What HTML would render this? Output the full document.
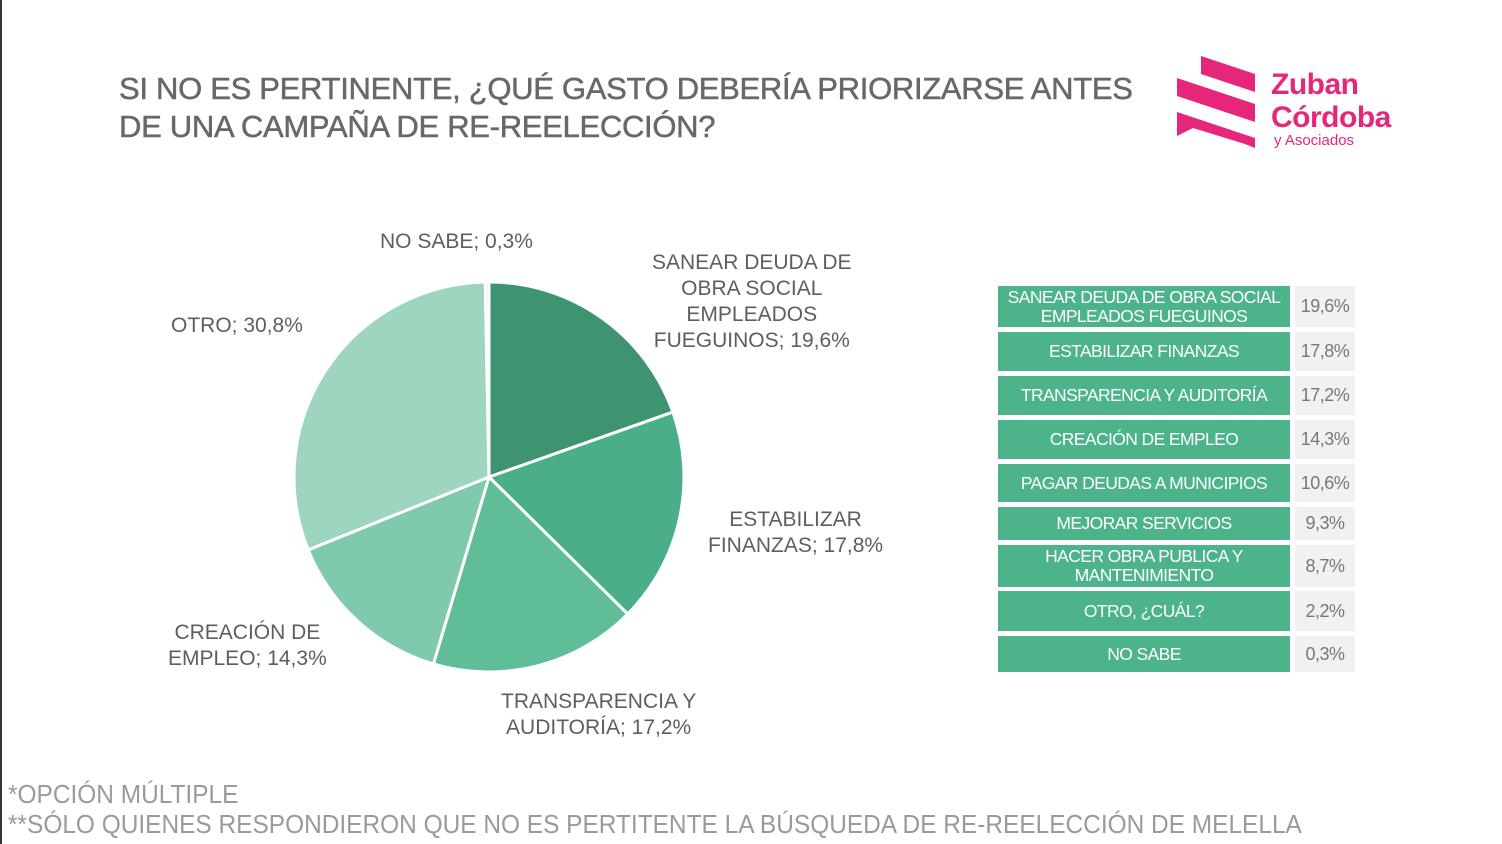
<!DOCTYPE html>
<html><head><meta charset="utf-8"><style>
*{margin:0;padding:0;box-sizing:border-box}
body{width:1502px;height:844px;background:#fff;position:relative;overflow:hidden;font-family:"Liberation Sans",sans-serif;color:#666}
.t{position:absolute;white-space:nowrap}
.title{left:119px;top:70px;font-size:31px;line-height:38px;color:#686868;letter-spacing:-0.3px;-webkit-text-stroke:0.5px #686868}
.lbl{position:absolute;font-size:21px;line-height:26px;color:#5e5e5e;text-align:center;white-space:nowrap}
.row{position:absolute;left:998px;width:292px;background:#4cb38b;color:#fff;font-size:17.5px;line-height:19px;display:flex;align-items:center;justify-content:center;text-align:center;letter-spacing:-0.6px}
.val{position:absolute;left:1295px;width:60px;background:#f1f1f1;color:#777;font-size:18px;display:flex;align-items:center;justify-content:center;letter-spacing:-0.5px}
.foot{left:8px;font-size:26px;color:#9a9a9a;transform:scaleX(0.94);transform-origin:left}
</style></head><body>
<div style="position:absolute;left:0;top:0;width:2px;height:844px;background:#333"></div>
<div class="t title">SI NO ES PERTINENTE, ¿QUÉ GASTO DEBERÍA PRIORIZARSE ANTES<br>DE UNA CAMPAÑA DE RE-REELECCIÓN?</div>

<svg style="position:absolute;left:1175px;top:56px" width="84" height="92">
<polygon points="26,0 80,18 80,36 26,18" fill="#e6267a"/>
<polygon points="2,22 80,48 80,66 2,40" fill="#e6267a"/>
<polygon points="2,56 80,82 80,92 70,88 18,72 2,80" fill="#e6267a"/>
</svg>
<div class="t" style="left:1271px;top:68px;font-size:30px;font-weight:bold;color:#e6267a;line-height:33px;letter-spacing:-0.5px">Zuban<br>Córdoba</div>
<div class="t" style="left:1274px;top:132px;font-size:15px;color:#e6267a">y Asociados</div>

<svg style="position:absolute;left:0;top:0" width="1000" height="844">
<g stroke="#fff" stroke-width="3">
<path d="M489,477 L489,282 A195,195 0 0 1 672.9,412.1 Z" fill="#3e9470"/>
<path d="M489,477 L672.9,412.1 A195,195 0 0 1 627.7,614 Z" fill="#4aae88"/>
<path d="M489,477 L627.7,614 A195,195 0 0 1 433.4,663.9 Z" fill="#5fbe98"/>
<path d="M489,477 L433.4,663.9 A195,195 0 0 1 308.2,549.9 Z" fill="#7fcaac"/>
<path d="M489,477 L308.2,549.9 A195,195 0 0 1 485.3,282 Z" fill="#9dd5bf"/>
<path d="M489,477 L485.3,282 A195,195 0 0 1 489,282 Z" fill="#d8eee4"/>
</g>
</svg>

<div class="lbl" style="left:380px;top:229px">NO SABE; 0,3%</div>
<div class="lbl" style="left:652px;top:250px">SANEAR DEUDA DE<br>OBRA SOCIAL<br>EMPLEADOS<br>FUEGUINOS; 19,6%</div>
<div class="lbl" style="left:171px;top:313px">OTRO; 30,8%</div>
<div class="lbl" style="left:708px;top:507px">ESTABILIZAR<br>FINANZAS; 17,8%</div>
<div class="lbl" style="left:168px;top:620px">CREACIÓN DE<br>EMPLEO; 14,3%</div>
<div class="lbl" style="left:501px;top:689px">TRANSPARENCIA Y<br>AUDITORÍA; 17,2%</div>

<div class="row" style="top:286px;height:41px">SANEAR DEUDA DE OBRA SOCIAL<br>EMPLEADOS FUEGUINOS</div><div class="val" style="top:286px;height:41px">19,6%</div>
<div class="row" style="top:332px;height:39px">ESTABILIZAR FINANZAS</div><div class="val" style="top:332px;height:39px">17,8%</div>
<div class="row" style="top:376px;height:39px">TRANSPARENCIA Y AUDITORÍA</div><div class="val" style="top:376px;height:39px">17,2%</div>
<div class="row" style="top:420px;height:39px">CREACIÓN DE EMPLEO</div><div class="val" style="top:420px;height:39px">14,3%</div>
<div class="row" style="top:464px;height:38px">PAGAR DEUDAS A MUNICIPIOS</div><div class="val" style="top:464px;height:38px">10,6%</div>
<div class="row" style="top:507px;height:33px">MEJORAR SERVICIOS</div><div class="val" style="top:507px;height:33px">9,3%</div>
<div class="row" style="top:545px;height:42px">HACER OBRA PUBLICA Y<br>MANTENIMIENTO</div><div class="val" style="top:545px;height:42px">8,7%</div>
<div class="row" style="top:591px;height:40px">OTRO, ¿CUÁL?</div><div class="val" style="top:591px;height:40px">2,2%</div>
<div class="row" style="top:636px;height:36px">NO SABE</div><div class="val" style="top:636px;height:36px">0,3%</div>

<div class="t foot" style="top:779px">*OPCIÓN MÚLTIPLE</div>
<div class="t foot" style="top:809px">**SÓLO QUIENES RESPONDIERON QUE NO ES PERTITENTE LA BÚSQUEDA DE RE-REELECCIÓN DE MELELLA</div>
</body></html>
